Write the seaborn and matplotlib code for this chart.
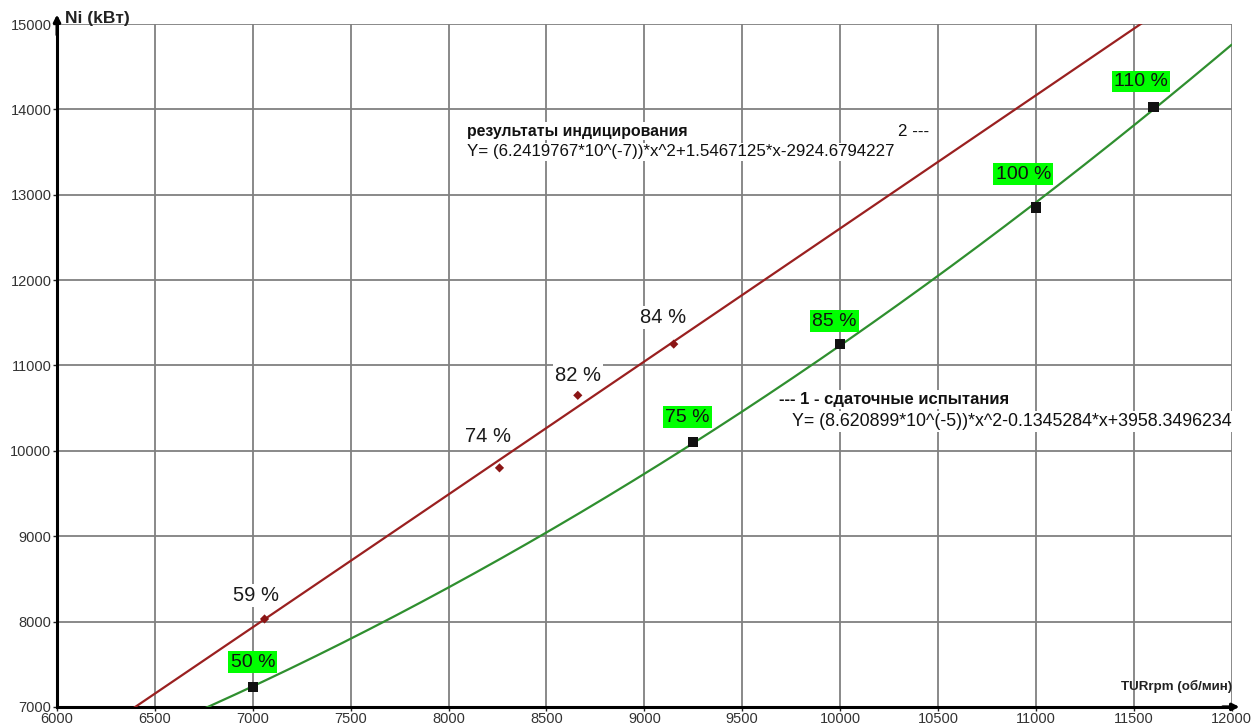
import numpy as np
import pandas as pd
import matplotlib
matplotlib.use("Agg")
import matplotlib.pyplot as plt
import seaborn as sns

# Indicator measurements (curve 2)
ind_rpm = [7060, 8260, 8660, 9150]
ind_power = [8030, 9800, 10650, 11250]
ind_labels = ["59 %", "74 %", "82 %", "84 %"]

# Acceptance test points (curve 1)
acc_rpm = [7000, 9250, 10000, 11000, 11600]
acc_power = [7230, 10100, 11250, 12850, 14030]
acc_labels = ["50 %", "75 %", "85 %", "100 %", "110 %"]

# Fitted polynomial coefficients (a*x^2 + b*x + c)
coef_ind = [6.2419767e-7, 1.5467125, -2924.6794227]
coef_acc = [8.620899e-5, -0.1345284, 3958.3496234]

x_ticks = list(range(6000, 12001, 500))
y_ticks = list(range(7000, 15001, 1000))

sns.set_theme(style="white")
plt.rcParams["font.family"] = ["Liberation Sans", "DejaVu Sans"]

fig = plt.figure(figsize=(12.53, 7.28), dpi=100)
ax = fig.add_axes([0.0455, 0.029, 0.9375, 0.938])

xs = np.linspace(6000, 12000, 400)
curves = pd.DataFrame({
    "rpm": np.concatenate([xs, xs]),
    "power": np.concatenate([np.polyval(coef_ind, xs), np.polyval(coef_acc, xs)]),
    "curve": ["2"] * len(xs) + ["1"] * len(xs),
})
sns.lineplot(data=curves, x="rpm", y="power", hue="curve",
             palette={"2": "#9a2020", "1": "#2f8f2f"}, linewidth=1.6,
             legend=False, ax=ax, zorder=3, sort=False)

sns.scatterplot(x=ind_rpm, y=ind_power, marker="D", s=22, color="#8b1515",
                edgecolor="none", ax=ax, zorder=4)
sns.scatterplot(x=acc_rpm, y=acc_power, marker="s", s=55, color="#111111",
                edgecolor="none", ax=ax, zorder=4)

ind_offsets = [(-6, 10), (-8, 15.5), (0, 7.5), (-8, 12)]
for x, y, t, off in zip(ind_rpm, ind_power, ind_labels, ind_offsets):
    ax.annotate(t, (x, y), xytext=off, textcoords="offset points",
                ha="center", va="bottom", fontsize=14.5, color="#1a1a1a",
                bbox=dict(boxstyle="square,pad=0.1", fc="white", ec="none"),
                zorder=5)

acc_offsets = [(0, 12), (-4, 12), (-4, 10.5), (-9, 18), (-9, 12)]
for x, y, t, off in zip(acc_rpm, acc_power, acc_labels, acc_offsets):
    ax.annotate(t, (x, y), xytext=off, textcoords="offset points",
                ha="center", va="bottom", fontsize=14, color="#111111",
                bbox=dict(boxstyle="square,pad=0.12", fc="#00ff00", ec="none"),
                zorder=5)

# Fit descriptions
box = dict(boxstyle="square,pad=0.1", fc="white", ec="none")
ax.text(0.3486, 0.843, "результаты индицирования", transform=ax.transAxes,
        fontsize=11.4, fontweight="bold", color="#111111", va="center", bbox=box, zorder=2.5)
ax.text(0.3486, 0.813, "Y= (6.2419767*10^(-7))*x^2+1.5467125*x-2924.6794227",
        transform=ax.transAxes, fontsize=12.2, color="#111111", va="center", bbox=box, zorder=2.5)
ax.text(0.716, 0.843, "2 ---", transform=ax.transAxes, fontsize=12.2,
        color="#111111", va="center", ha="left", bbox=box, zorder=2.5)
ax.text(0.6150, 0.450, "--- 1 - сдаточные испытания", transform=ax.transAxes,
        fontsize=12.0, fontweight="bold", color="#111111", va="center", bbox=box, zorder=2.5)
ax.text(0.6260, 0.418, "Y= (8.620899*10^(-5))*x^2-0.1345284*x+3958.3496234",
        transform=ax.transAxes, fontsize=12.8, color="#111111", va="center", bbox=box, zorder=2.5)

ax.set_xlim(6000, 12000)
ax.set_ylim(7000, 15000)
ax.set_xticks(x_ticks)
ax.set_yticks(y_ticks)
ax.grid(True, color="#808080", linewidth=1.3)
ax.set_axisbelow(True)
ax.tick_params(axis="both", which="both", length=3, width=1, color="#222222",
               labelsize=10.5, labelcolor="#333333", pad=1, left=True, bottom=True)
ax.set_xlabel("")
ax.set_ylabel("")

for side in ["top", "right"]:
    ax.spines[side].set_visible(False)
for side in ["left", "bottom"]:
    ax.spines[side].set_color("black")
    ax.spines[side].set_linewidth(2.2)

# Axis arrows
ax.annotate("", xy=(0, 1.018), xytext=(0, 0.98), xycoords="axes fraction",
            arrowprops=dict(arrowstyle="-|>", color="black", lw=2.2, mutation_scale=10),
            annotation_clip=False)
ax.annotate("", xy=(1.009, 0), xytext=(0.99, 0), xycoords="axes fraction",
            arrowprops=dict(arrowstyle="-|>", color="black", lw=2.2, mutation_scale=10),
            annotation_clip=False)

ax.text(0.007, 1.008, "Ni (kBт)", transform=ax.transAxes, fontsize=12.5,
        fontweight="bold", color="#222222", va="center", ha="left")
ax.text(1.0, 0.03, "TURrpm (об/мин)", transform=ax.transAxes, fontsize=9.6,
        fontweight="bold", color="#222222", va="center", ha="right")

fig.savefig("out.png", dpi=100, facecolor="white")
